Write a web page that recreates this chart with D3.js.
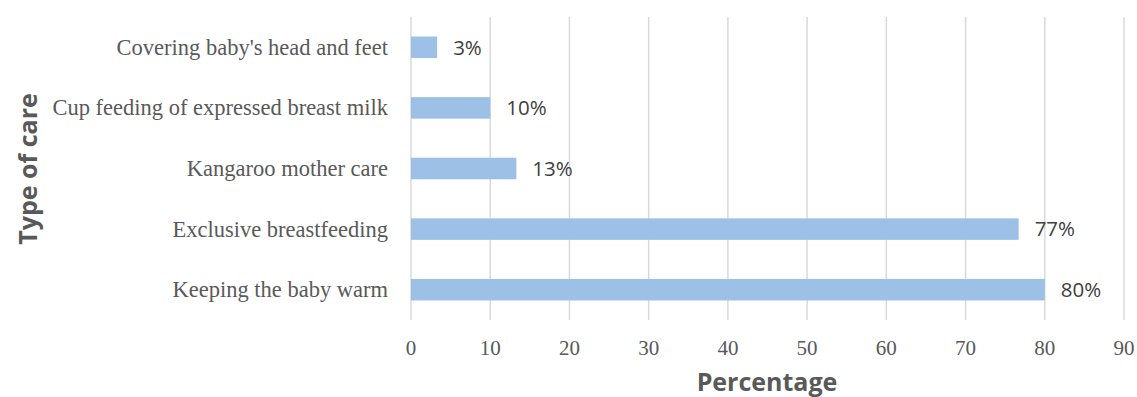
<!DOCTYPE html>
<html>
<head>
<meta charset="utf-8">
<script src="https://cdn.jsdelivr.net/npm/d3@7"></script>
<style>
  body { margin: 0; background: #fff; }
</style>
</head>
<body>
<script>
// data (n = 30 respondents)
const careTypes = [
  "Covering baby's head and feet",
  "Cup feeding of expressed breast milk",
  "Kangaroo mother care",
  "Exclusive breastfeeding",
  "Keeping the baby warm"
];
const percentValues = [3.3, 10, 13.3, 76.7, 80];
const xTicks = [0, 10, 20, 30, 40, 50, 60, 70, 80, 90];

function main(){
  let width = 1137, height = 397;
  let margin = {left: 411, right: 13, top: 17, bottom: 77};

  let svg = d3.select("body").append("svg")
    .attr("width", width).attr("height", height);

  let x = d3.scaleLinear().domain([0, 90])
    .range([margin.left, width - margin.right]);
  let y = d3.scaleBand().domain(careTypes)
    .range([margin.top, height - margin.bottom])
    .paddingInner(0.645).paddingOuter(0.3225);

  // gridlines
  svg.append("g").selectAll("line").data(xTicks).enter().append("line")
    .attr("x1", d => x(d)).attr("x2", d => x(d))
    .attr("y1", margin.top).attr("y2", height - margin.bottom)
    .attr("stroke", "#d9d9d9").attr("stroke-width", 1.5);

  // bars
  let rows = careTypes.map((c, i) => ({c, v: percentValues[i]}));
  svg.append("g").selectAll("rect").data(rows).enter().append("rect")
    .attr("x", x(0))
    .attr("y", d => y(d.c))
    .attr("width", d => x(d.v) - x(0))
    .attr("height", y.bandwidth())
    .attr("fill", "#9dc0e6");

  // value labels
  svg.append("g").selectAll("text").data(rows).enter().append("text")
    .attr("x", d => x(d.v) + 16)
    .attr("y", d => y(d.c) + y.bandwidth()/2)
    .attr("dy", "0.36em")
    .attr("font-family", "'Open Sans', sans-serif")
    .attr("font-size", 20.5)
    .attr("fill", "#404040")
    .text(d => Math.round(d.v) + "%");

  // category labels
  svg.append("g").selectAll("text").data(careTypes).enter().append("text")
    .attr("x", margin.left - 23)
    .attr("y", d => y(d) + y.bandwidth()/2)
    .attr("dy", "0.33em")
    .attr("text-anchor", "end")
    .attr("font-family", "'Liberation Serif', serif")
    .attr("font-size", 22.5)
    .attr("fill", "#595959")
    .text(d => d);

  // x tick labels
  svg.append("g").selectAll("text").data(xTicks).enter().append("text")
    .attr("x", d => x(d))
    .attr("y", 355)
    .attr("text-anchor", "middle")
    .attr("font-family", "'Liberation Serif', serif")
    .attr("font-size", 21)
    .attr("fill", "#595959")
    .text(d => d);

  // axis titles
  svg.append("text")
    .attr("x", 767).attr("y", 391)
    .attr("text-anchor", "middle")
    .attr("font-family", "'Open Sans', sans-serif")
    .attr("font-weight", "bold")
    .attr("font-size", 25)
    .attr("fill", "#595959")
    .text("Percentage");

  svg.append("text")
    .attr("transform", "translate(37,169) rotate(-90)")
    .attr("text-anchor", "middle")
    .attr("font-family", "'Open Sans', sans-serif")
    .attr("font-weight", "bold")
    .attr("font-size", 25)
    .attr("fill", "#595959")
    .text("Type of care");
}
main();
</script>
</body>
</html>
